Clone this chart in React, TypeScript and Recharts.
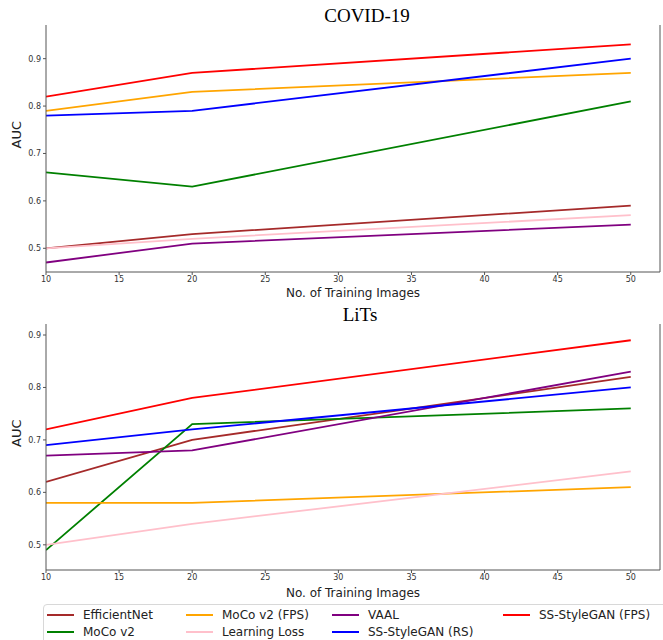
import React from 'react';
import { LineChart, Line, XAxis, YAxis } from 'recharts';

// x positions of the measurements
const trainingImages = [10, 20, 50];
const xTicks = [10, 15, 20, 25, 30, 35, 40, 45, 50];
const yTicks = [0.5, 0.6, 0.7, 0.8, 0.9];

// COVID-19 AUC
const covidEfficientNet = [0.5, 0.53, 0.59];
const covidMoco = [0.66, 0.63, 0.81];
const covidMocoFps = [0.79, 0.83, 0.87];
const covidLearningLoss = [0.5, 0.52, 0.57];
const covidVaal = [0.47, 0.51, 0.55];
const covidStyleganRs = [0.78, 0.79, 0.9];
const covidStyleganFps = [0.82, 0.87, 0.93];

// LiTs AUC
const litsEfficientNet = [0.62, 0.7, 0.82];
const litsMoco = [0.49, 0.73, 0.76];
const litsMocoFps = [0.58, 0.58, 0.61];
const litsLearningLoss = [0.5, 0.54, 0.64];
const litsVaal = [0.67, 0.68, 0.83];
const litsStyleganRs = [0.69, 0.72, 0.8];
const litsStyleganFps = [0.72, 0.78, 0.89];

const series = [
  { key: 'eff', name: 'EfficientNet', color: '#a52a2a', covid: covidEfficientNet, lits: litsEfficientNet },
  { key: 'moco', name: 'MoCo v2', color: '#008000', covid: covidMoco, lits: litsMoco },
  { key: 'mocoFps', name: 'MoCo v2 (FPS)', color: '#ffa500', covid: covidMocoFps, lits: litsMocoFps },
  { key: 'll', name: 'Learning Loss', color: '#ffc0cb', covid: covidLearningLoss, lits: litsLearningLoss },
  { key: 'vaal', name: 'VAAL', color: '#800080', covid: covidVaal, lits: litsVaal },
  { key: 'rs', name: 'SS-StyleGAN (RS)', color: '#0000ff', covid: covidStyleganRs, lits: litsStyleganRs },
  { key: 'fps', name: 'SS-StyleGAN (FPS)', color: '#ff0000', covid: covidStyleganFps, lits: litsStyleganFps },
];

const buildRows = (which: 'covid' | 'lits') =>
  trainingImages.map((x, i) => {
    const row: Record<string, number> = { x };
    series.forEach((s) => {
      row[s.key] = s[which][i];
    });
    return row;
  });

const covidData = buildRows('covid');
const litsData = buildRows('lits');

const sans = '"DejaVu Sans", sans-serif';
const frame = '#555';
const tick = { fontSize: 8, fill: '#333', fontFamily: sans };

function Panel({
  title,
  titleX,
  data,
  yDomain,
  top,
  marginTop,
  xHeight,
}: {
  title: string;
  titleX: number;
  data: Record<string, number>[];
  yDomain: [number, number];
  top: number;
  marginTop: number;
  xHeight: number;
}) {
  return (
    <div style={{ position: 'absolute', left: 0, top, width: 663, height: 300 }}>
      <div
        style={{
          position: 'absolute',
          left: titleX - 60,
          width: 120,
          top: marginTop - 20,
          textAlign: 'center',
          fontFamily: '"Liberation Serif", "DejaVu Serif", serif',
          fontSize: 19,
          color: '#000',
        }}
      >
        {title}
      </div>
      <LineChart width={663} height={300} data={data} margin={{ top: marginTop, right: 0, left: 0, bottom: 0 }}>
        <XAxis
          dataKey="x"
          type="number"
          domain={[10, 52]}
          ticks={xTicks}
          allowDataOverflow
          height={xHeight}
          tick={tick}
          tickSize={3}
          tickMargin={1}
          stroke={frame}
          label={{ value: 'No. of Training Images', position: 'insideBottom', offset: 3, fontSize: 12, fill: '#222', fontFamily: sans }}
        />
        <XAxis xAxisId="top" orientation="top" dataKey="x" type="number" domain={[10, 52]} height={0} tick={false} tickLine={false} stroke={frame} />
        <YAxis
          type="number"
          domain={yDomain}
          ticks={yTicks}
          allowDataOverflow
          width={46}
          tick={tick}
          tickSize={3}
          tickMargin={2}
          tickFormatter={(v: number) => v.toFixed(1)}
          stroke={frame}
          label={{ value: 'AUC', angle: -90, position: 'insideLeft', offset: 16, fontSize: 13, fill: '#222', fontFamily: sans }}
        />
        <YAxis yAxisId="right" orientation="right" domain={yDomain} width={3} tick={false} tickLine={false} stroke={frame} />
        {series.map((s) => (
          <Line
            key={s.key}
            dataKey={s.key}
            name={s.name}
            stroke={s.color}
            strokeWidth={1.8}
            dot={false}
            type="linear"
            isAnimationActive={false}
          />
        ))}
      </LineChart>
    </div>
  );
}

const legendCols = [
  ['eff', 'moco'],
  ['mocoFps', 'll'],
  ['vaal', 'rs'],
  ['fps'],
];
const legendColX = [47, 186, 332, 503];

export default function App() {
  return (
    <div style={{ position: 'absolute', left: 0, top: 0, width: 663, height: 640, background: '#fff', overflow: 'hidden' }}>
      <Panel title="COVID-19" titleX={367} data={covidData} yDomain={[0.45, 0.971]} top={0} marginTop={25} xHeight={28} />
      <Panel title="LiTs" titleX={360} data={litsData} yDomain={[0.452, 0.921]} top={300} marginTop={24} xHeight={30} />
      <div
        style={{
          position: 'absolute',
          left: 43,
          top: 604,
          width: 630,
          height: 50,
          border: '1px solid #d8d8d8',
          borderRadius: 4,
          boxSizing: 'border-box',
        }}
      />
      {legendCols.map((col, ci) =>
        col.map((k, ri) => {
          const s = series.find((d) => d.key === k)!;
          return (
            <div
              key={k}
              style={{
                position: 'absolute',
                left: legendColX[ci],
                top: 606 + ri * 17.5,
                height: 17,
                display: 'flex',
                alignItems: 'center',
                fontFamily: sans,
                fontSize: 12,
                color: '#222',
                whiteSpace: 'nowrap',
              }}
            >
              <span style={{ display: 'inline-block', width: 27, height: 2, background: s.color, marginRight: 9 }} />
              {s.name}
            </div>
          );
        })
      )}
    </div>
  );
}
